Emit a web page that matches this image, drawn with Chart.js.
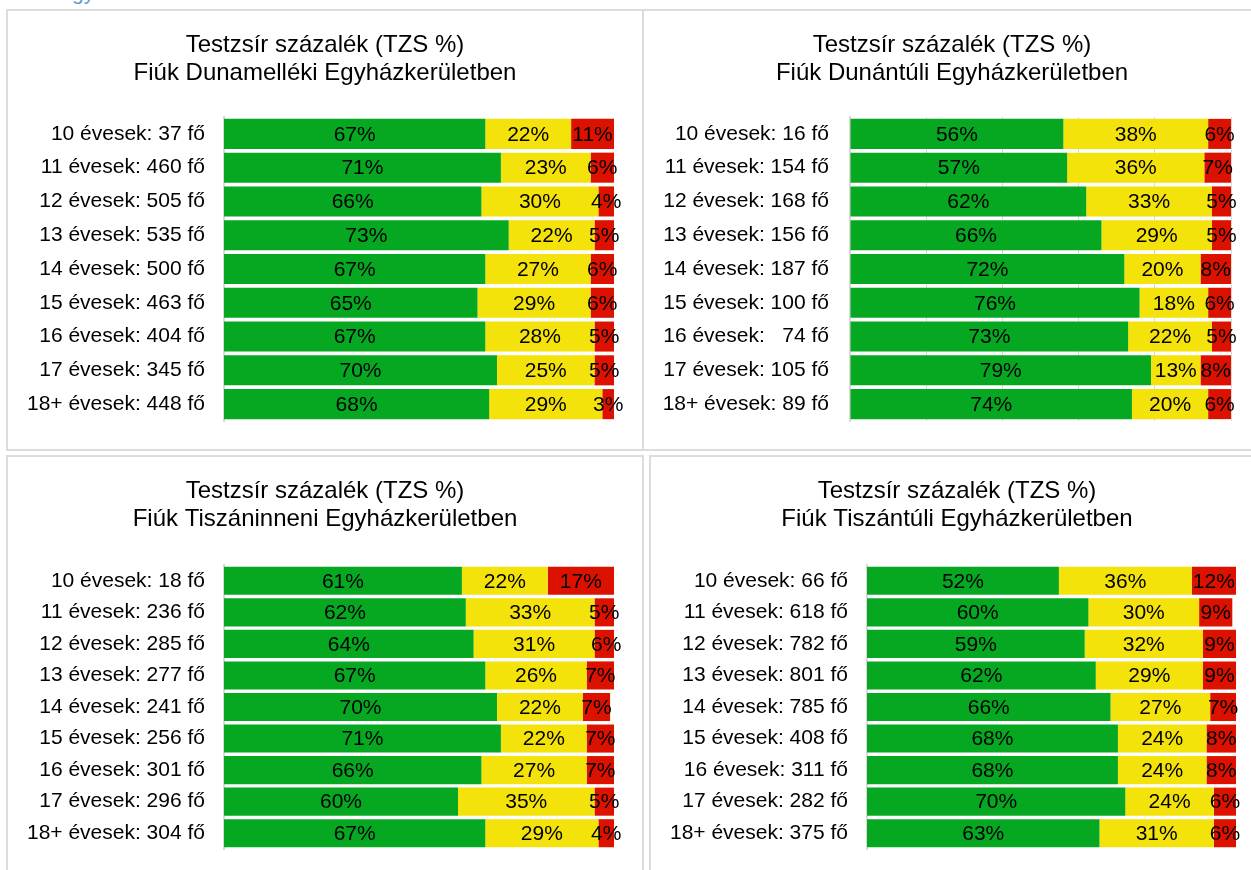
<!DOCTYPE html>
<html lang="hu">
<head>
<meta charset="utf-8">
<title>Testzsír százalék (TZS %) - Fiúk</title>
<script src="https://cdn.jsdelivr.net/npm/chart.js@4/dist/chart.umd.min.js"></script>
<style>
  body {
    margin: 0;
    width: 1251px;
    height: 870px;
    overflow: hidden;
    position: relative;
    background: #fff;
    font-family: "Liberation Sans", Arial, sans-serif;
  }
  .box {
    position: absolute;
    border: 2px solid #dcdcdc;
    box-sizing: border-box;
  }
  canvas { position: absolute; }
  #head {
    position: absolute;
    left: 72px;
    top: -19px;
    font-size: 21px;
    color: #5b9bd5;
  }
</style>
</head>
<body>

<div id="head">gy</div>

<div class="box" style="left:6px;top:9px;width:638px;height:442px"></div>
<div class="box" style="left:642px;top:9px;width:700px;height:442px"></div>
<div class="box" style="left:6px;top:455px;width:638px;height:500px"></div>
<div class="box" style="left:649px;top:455px;width:700px;height:500px"></div>

<canvas id="dunamellek" width="636" height="440" style="left:7px;top:10px"></canvas>
<canvas id="dunantul" width="607" height="440" style="left:644px;top:10px"></canvas>
<canvas id="tiszaninnen" width="636" height="413" style="left:7px;top:457px"></canvas>
<canvas id="tiszantul" width="600" height="413" style="left:651px;top:457px"></canvas>

<script>

// common title line
const titleLine = 'Testzsír százalék (TZS %)';

// Dunamelléki
const dmTitle = 'Fiúk Dunamelléki Egyházkerületben';
const dmLabels = ['10 évesek: 37 fő', '11 évesek: 460 fő', '12 évesek: 505 fő', '13 évesek: 535 fő',
  '14 évesek: 500 fő', '15 évesek: 463 fő', '16 évesek: 404 fő', '17 évesek: 345 fő', '18+ évesek: 448 fő'];
const dmGreen  = [67, 71, 66, 73, 67, 65, 67, 70, 68];
const dmYellow = [22, 23, 30, 22, 27, 29, 28, 25, 29];
const dmRed    = [11, 6, 4, 5, 6, 6, 5, 5, 3];

// Dunántúli
const dtTitle = 'Fiúk Dunántúli Egyházkerületben';
const dtLabels = ['10 évesek: 16 fő', '11 évesek: 154 fő', '12 évesek: 168 fő', '13 évesek: 156 fő',
  '14 évesek: 187 fő', '15 évesek: 100 fő', '16 évesek:   74 fő', '17 évesek: 105 fő', '18+ évesek: 89 fő'];
const dtGreen  = [56, 57, 62, 66, 72, 76, 73, 79, 74];
const dtYellow = [38, 36, 33, 29, 20, 18, 22, 13, 20];
const dtRed    = [6, 7, 5, 5, 8, 6, 5, 8, 6];

// Tiszáninneni
const tiTitle = 'Fiúk Tiszáninneni Egyházkerületben';
const tiLabels = ['10 évesek: 18 fő', '11 évesek: 236 fő', '12 évesek: 285 fő', '13 évesek: 277 fő',
  '14 évesek: 241 fő', '15 évesek: 256 fő', '16 évesek: 301 fő', '17 évesek: 296 fő', '18+ évesek: 304 fő'];
const tiGreen  = [61, 62, 64, 67, 70, 71, 66, 60, 67];
const tiYellow = [22, 33, 31, 26, 22, 22, 27, 35, 29];
const tiRed    = [17, 5, 6, 7, 7, 7, 7, 5, 4];

// Tiszántúli
const ttTitle = 'Fiúk Tiszántúli Egyházkerületben';
const ttLabels = ['10 évesek: 66 fő', '11 évesek: 618 fő', '12 évesek: 782 fő', '13 évesek: 801 fő',
  '14 évesek: 785 fő', '15 évesek: 408 fő', '16 évesek: 311 fő', '17 évesek: 282 fő', '18+ évesek: 375 fő'];
const ttGreen  = [52, 60, 59, 62, 66, 68, 68, 70, 63];
const ttYellow = [36, 30, 32, 29, 27, 24, 24, 24, 31];
const ttRed    = [12, 9, 9, 9, 7, 8, 8, 6, 6];


const FONT = '"Liberation Sans", Arial, sans-serif';
const GREEN = '#06a822';
const YELLOW = '#f4e20b';
const RED = '#dd1100';

// writes the percentage in the middle of every bar piece
const pctLabels = {
  id: 'pctLabels',
  afterDatasetsDraw(chart) {
    const ctx = chart.ctx;
    ctx.save();
    ctx.font = '21px ' + FONT;
    ctx.fillStyle = '#000';
    ctx.textAlign = 'center';
    ctx.textBaseline = 'middle';
    chart.data.datasets.forEach(function(ds, i) {
      chart.getDatasetMeta(i).data.forEach(function(bar, j) {
        ctx.fillText(ds.data[j] + '%', (bar.x + bar.base) / 2, bar.y + 1);
      });
    });
    ctx.restore();
  }
};

// the category labels may be wider than the axis box, don't clip them
const keepLabels = {
  id: 'keepLabels',
  afterLayout(chart) {
    chart.scales.y.left = 0;
  }
};

/*  makeChart
*
*   one stacked horizontal bar chart
*   box -- paddings / axis width of the panel
*/
function makeChart(id, subtitle, labels, green, yellow, red, box) {
  new Chart(document.getElementById(id), {
    type: 'bar',
    data: {
      labels: labels,
      datasets: [
        { data: green,  backgroundColor: GREEN },
        { data: yellow, backgroundColor: YELLOW },
        { data: red,    backgroundColor: RED }
      ]
    },
    options: {
      indexAxis: 'y',
      responsive: false,
      animation: false,
      devicePixelRatio: 1,
      categoryPercentage: 1,
      barPercentage: 0.89,
      borderWidth: 0,
      layout: {
        padding: { left: box.padL, right: box.padR, top: 0, bottom: box.padB }
      },
      plugins: {
        legend: { display: false },
        tooltip: { enabled: false },
        title: {
          display: true,
          text: [titleLine, subtitle],
          color: '#000',
          font: { family: FONT, size: 24, weight: 'normal', lineHeight: 28 / 24 },
          padding: { top: box.titleTop, bottom: box.titleBottom }
        }
      },
      scales: {
        x: {
          stacked: true,
          min: 0,
          max: 100,
          display: box.grid,
          ticks: { display: false, stepSize: 20 },
          grid: { display: box.grid, color: '#d9d9d9', drawTicks: false },
          border: { display: false }
        },
        y: {
          stacked: true,
          grid: { display: false, drawTicks: true, tickLength: box.gap },
          border: { color: '#d9d9d9', width: 2 },
          ticks: { color: '#000', font: { family: FONT, size: 21 }, padding: 0, autoSkip: false },
          afterFit: function(s) { s.width = box.yWidth; }
        }
      }
    },
    plugins: [pctLabels, keepLabels]
  });
}

makeChart('dunamellek', dmTitle, dmLabels, dmGreen, dmYellow, dmRed,
  { padL: 29, padR: 29, padB: 29, yWidth: 188, gap: 19, titleTop: 21, titleBottom: 30, grid: false });

makeChart('dunantul', dtTitle, dtLabels, dtGreen, dtYellow, dtRed,
  { padL: 29, padR: 20, padB: 29, yWidth: 177, gap: 21, titleTop: 21, titleBottom: 30, grid: true });

makeChart('tiszaninnen', tiTitle, tiLabels, tiGreen, tiYellow, tiRed,
  { padL: 29, padR: 29, padB: 21, yWidth: 188, gap: 19, titleTop: 20, titleBottom: 32, grid: false });

makeChart('tiszantul', ttTitle, ttLabels, ttGreen, ttYellow, ttRed,
  { padL: 27, padR: 15, padB: 21, yWidth: 189, gap: 19, titleTop: 20, titleBottom: 32, grid: false });

</script>
</body>
</html>
